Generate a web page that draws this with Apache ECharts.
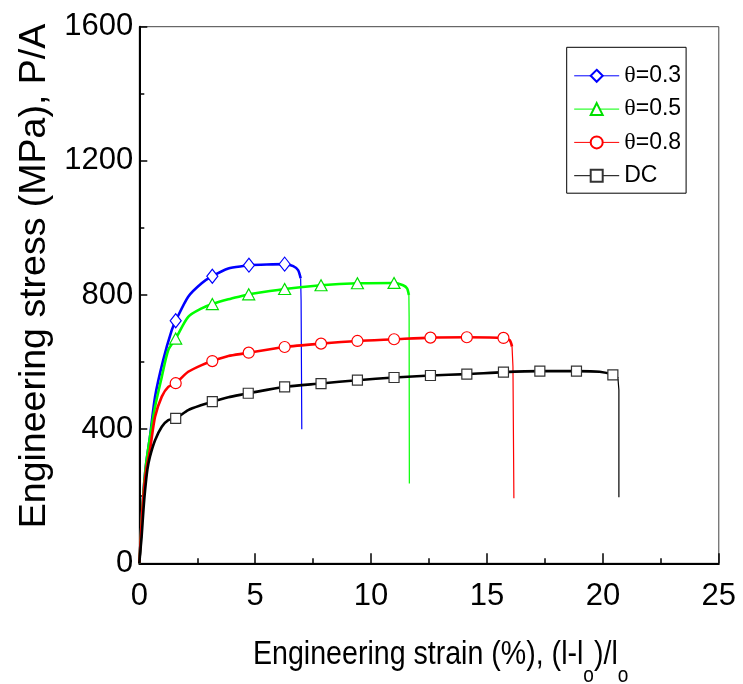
<!DOCTYPE html>
<html><head><meta charset="utf-8">
<script src="https://cdn.jsdelivr.net/npm/echarts@6/dist/echarts.min.js"></script>
<style>html,body{margin:0;padding:0;background:#fff}#c{width:743px;height:684px}</style>
</head><body><div id="c"></div>
<script>
// ---- data (strain %, stress MPa) ----
const seriesNames = ['θ=0.3', 'θ=0.5', 'θ=0.8', 'DC'];

const c03X = [0, 0.05, 0.12, 0.2, 0.3, 0.46, 0.68, 1.03, 1.4, 1.57, 2.11, 2.69, 3.15, 3.84, 4.56, 4.73, 5.5, 6.27, 6.64, 6.85, 6.96];
const c03Y = [0, 60, 150, 230, 300, 377, 497, 606, 695, 723, 795, 835, 856, 879, 887, 889, 891, 892, 886, 874, 850];
const d03X = [6.96, 6.98, 7.01];
const d03Y = [850, 785, 400];
const m03X = [1.57, 3.15, 4.73, 6.27];
const m03Y = [723, 856, 889, 892];

const c05X = [0, 0.05, 0.12, 0.2, 0.3, 0.46, 0.68, 0.97, 1.25, 1.57, 2.11, 2.69, 3.15, 3.84, 4.56, 4.72, 6.27, 7.84, 9.41, 10.99, 11.38, 11.55, 11.63];
const c05Y = [0, 60, 150, 230, 300, 377, 467, 556, 636, 670, 735, 760, 773, 787, 799, 802, 818, 829, 835, 836, 829, 820, 800];
const d05X = [11.63, 11.64, 11.65];
const d05Y = [800, 735, 238];
const m05X = [1.57, 3.15, 4.72, 6.27, 7.84, 9.41, 10.99];
const m05Y = [670, 773, 802, 818, 829, 835, 836];

const c08X = [0, 0.05, 0.12, 0.2, 0.3, 0.46, 0.68, 0.97, 1.25, 1.57, 2.11, 2.69, 3.15, 3.84, 4.56, 4.72, 6.27, 7.84, 9.41, 10.99, 12.56, 14.13, 15.71, 15.98, 16.08];
const c08Y = [0, 60, 145, 220, 280, 338, 437, 497, 526, 537, 571, 591, 603, 618, 626, 628, 645, 655, 663, 668, 673, 674, 672, 665, 646];
const d08X = [16.08, 16.12, 16.16];
const d08Y = [646, 586, 194];
const m08X = [1.57, 3.15, 4.72, 6.27, 7.84, 9.41, 10.99, 12.56, 14.13, 15.71];
const m08Y = [537, 603, 628, 645, 655, 663, 668, 673, 674, 672];

const cDCX = [0, 0.05, 0.1, 0.18, 0.25, 0.35, 0.46, 0.68, 0.97, 1.25, 1.57, 2.11, 2.69, 3.15, 3.84, 4.56, 4.7, 6.27, 7.84, 9.41, 10.99, 12.56, 14.13, 15.71, 17.28, 18.86, 19.86, 20.43, 20.65];
const cDCY = [0, 40, 79, 160, 218, 280, 318, 367, 407, 427, 432, 457, 472, 482, 495, 505, 507, 526, 536, 546, 554, 560, 564, 570, 573, 573, 571, 562, 551];
const dDCX = [20.65, 20.69, 20.69];
const dDCY = [551, 517, 197];
const mDCX = [1.57, 3.15, 4.7, 6.27, 7.84, 9.41, 10.99, 12.56, 14.13, 15.71, 17.28, 18.86, 20.43];
const mDCY = [432, 482, 507, 526, 536, 546, 554, 560, 564, 570, 573, 573, 562];

// ---- build ----
const pairs = (xs, ys) => xs.map((x, i) => [x, ys[i]]);
const FONT = "'Liberation Sans', Arial, sans-serif";
const specs = [
  {name: seriesNames[0], c: [c03X, c03Y], d: [d03X, d03Y], m: [m03X, m03Y], color: '#0000ff', symbol: 'diamond', size: [11, 14], border: '#0000ff'},
  {name: seriesNames[1], c: [c05X, c05Y], d: [d05X, d05Y], m: [m05X, m05Y], color: '#00ff00', symbol: 'triangle', size: [12, 11], border: '#00e000'},
  {name: seriesNames[2], c: [c08X, c08Y], d: [d08X, d08Y], m: [m08X, m08Y], color: '#ff0000', symbol: 'circle', size: 11, border: '#ff0000'},
  {name: seriesNames[3], c: [cDCX, cDCY], d: [dDCX, dDCY], m: [mDCX, mDCY], color: '#000000', symbol: 'rect', size: 10, border: '#333333'}
];
const series = [];
specs.forEach((s, k) => {
  series.push({
    type: 'line', name: s.name, data: pairs(s.c[0], s.c[1]),
    symbol: s.symbol, symbolSize: s.size, showSymbol: false,
    smooth: 0.25,
    lineStyle: {color: s.color, width: 2.6},
    itemStyle: {color: '#ffffff', borderColor: s.border, borderWidth: 1.2},
    z: 3 + k, silent: true
  });
  series.push({
    type: 'line', name: s.name + '_drop', data: pairs(s.d[0], s.d[1]),
    symbol: 'none', lineStyle: {color: s.color, width: 1.2}, z: 3 + k, silent: true
  });
  series.push({
    type: 'scatter', name: s.name + '_marks', data: pairs(s.m[0], s.m[1]),
    symbol: s.symbol, symbolSize: s.size,
    itemStyle: {color: '#ffffff', borderColor: s.border, borderWidth: 1.2, opacity: 1},
    z: 10 + k, silent: true
  });
});

const chart = echarts.init(document.getElementById('c'), null, {renderer: 'canvas'});
chart.setOption({
  animation: false,
  backgroundColor: '#ffffff',
  grid: {left: 139.3, right: 24.2, top: 26.7, bottom: 120.7, containLabel: false, outerBoundsMode: 'none',
    show: true, borderColor: '#444', borderWidth: 1, backgroundColor: 'transparent'},
  legend: {
    data: seriesNames, orient: 'vertical', left: 566.7, top: 47.3,
    borderColor: '#000', borderWidth: 1, padding: [16, 5, 5, 7],
    itemWidth: 45, itemHeight: 15, itemGap: 8.3,
    lineStyle: {width: 1},
    textStyle: {fontFamily: FONT, fontSize: 23, color: '#000', lineHeight: 25,
      rich: {t: {fontFamily: "'Liberation Serif', serif", fontSize: 24, lineHeight: 25, color: '#000'}}},
    formatter: n => n.startsWith('θ') ? '{t|θ}' + n.slice(1) : n
  },
  graphic: [{
    type: 'text', x: 253, y: 622.5, scaleX: 0.866, silent: true,
    style: {
      text: 'Engineering strain (%), (l-l{s|o})/l{s|o}',
      fontFamily: FONT, fontSize: 33, fill: '#000', align: 'left', verticalAlign: 'top',
      rich: {s: {fontFamily: FONT, fontSize: 22, fill: '#000', verticalAlign: 'top', padding: [42, 0, 0, 0]}}
    }
  }],
  xAxis: {
    type: 'value', min: 0, max: 25, interval: 5,
    axisLine: {show: true, onZero: false, lineStyle: {color: '#000', width: 2}},
    axisTick: {show: true, inside: true, length: 10, lineStyle: {color: '#000', width: 1.5}},
    minorTick: {show: true, splitNumber: 2, length: 5, lineStyle: {color: '#000', width: 1.5}},
    splitLine: {show: false},
    axisLabel: {fontFamily: FONT, fontSize: 31, color: '#000', margin: 18}
  },
  yAxis: {
    type: 'value', min: 0, max: 1600, interval: 400,
    axisLine: {show: true, onZero: false, lineStyle: {color: '#000', width: 2}},
    axisTick: {show: true, inside: true, length: 8, lineStyle: {color: '#000', width: 1.5}},
    minorTick: {show: true, splitNumber: 2, length: 5, lineStyle: {color: '#000', width: 1.5}},
    splitLine: {show: false},
    axisLabel: {fontFamily: FONT, fontSize: 31, color: '#000', margin: 6, formatter: v => String(v)},
    name: 'Engineering stress (MPa), P/A',
    nameLocation: 'middle', nameGap: 68,
    nameTextStyle: {fontFamily: FONT, fontSize: 37.5, color: '#000', padding: [0, 0, 0, 38]}
  },
  series: series
});
</script></body></html>
